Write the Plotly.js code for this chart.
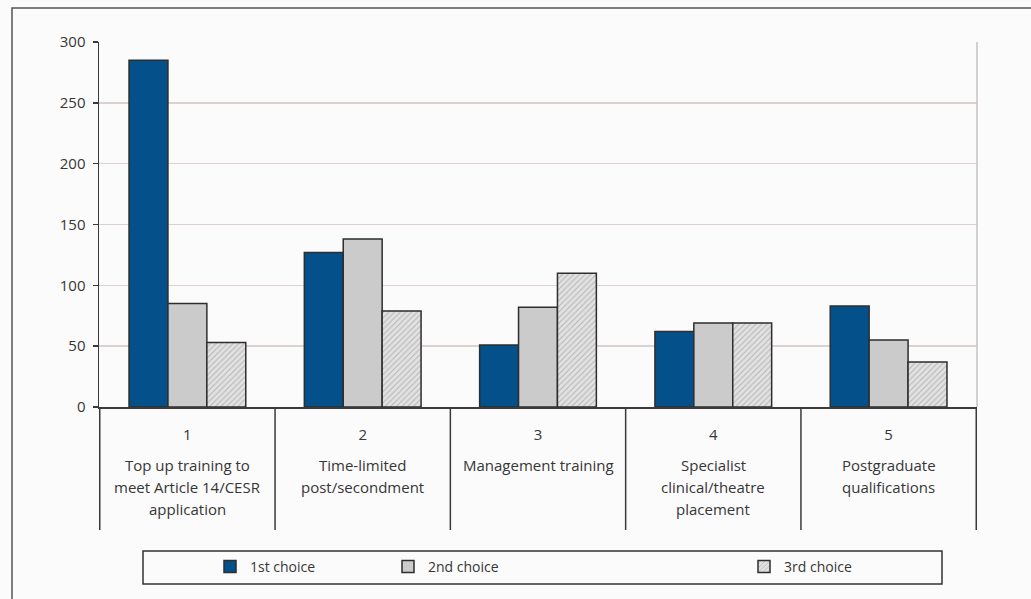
<!DOCTYPE html>
<html>
<head>
<meta charset="utf-8">
<script src="https://cdn.plot.ly/plotly-3.0.1.min.js"></script>
<style>
  html, body { margin: 0; padding: 0; background: #fbfbfb; }
  #chart { width: 1031px; height: 599px; }
</style>
</head>
<body>
<div id="chart"></div>
<script>
// Training options, ranked by respondents
const categories = ["1", "2", "3", "4", "5"];
const categoryLabels = [
  ["Top up training to", "meet Article 14/CESR", "application"],
  ["Time-limited", "post/secondment"],
  ["Management training"],
  ["Specialist", "clinical/theatre", "placement"],
  ["Postgraduate", "qualifications"]
];
const seriesNames = ["1st choice", "2nd choice", "3rd choice"];
const firstChoice  = [285, 127, 51, 62, 83];
const secondChoice = [85, 138, 82, 69, 55];
const thirdChoice  = [53, 79, 110, 69, 37];
const yTicks = [0, 50, 100, 150, 200, 250, 300];

const FONT = "Open Sans, Noto Sans, sans-serif";
const TEXT = "#363636";
const EDGE = {color: "#2e2e2e", width: 1.5};

const traces = [
  {type: "bar", name: seriesNames[0], x: categories, y: firstChoice,
   marker: {color: "#04508a", line: EDGE}, legend: "legend"},
  {type: "bar", name: seriesNames[1], x: categories, y: secondChoice,
   marker: {color: "#cbcbcb", line: EDGE}, legend: "legend2"},
  {type: "bar", name: seriesNames[2], x: categories, y: thirdChoice,
   marker: {color: "#e2e2e2", line: EDGE,
            pattern: {shape: "/", fgcolor: "#b4b4b4", bgcolor: "#e2e2e2", size: 4, solidity: 0.25}},
   legend: "legend3"}
];

// Plot-area geometry in pixels (used to turn pixel spots into paper units)
const L = 99, R = 54, T = 42, B = 192, W = 1031, H = 599;
const pw = W - L - R, ph = H - T - B;
const px = v => (v - L) / pw;
const py = v => (H - B - v) / ph;

const shapes = [];
// outer frame (runs past the right and bottom edges)
shapes.push({type: "rect", xref: "paper", yref: "paper",
  x0: px(12), x1: px(1080), y0: py(8), y1: py(640),
  line: {color: "#555", width: 1.5}, layer: "below"});
// light right edge of the plot area
shapes.push({type: "line", xref: "paper", yref: "paper", x0: 1, x1: 1, y0: 0, y1: 1,
  line: {color: "#c9c2c2", width: 1.5}});
// separators between category cells
for (let i = 0; i <= categories.length; i++) {
  shapes.push({type: "line", xref: "x", yref: "paper", x0: i - 0.5, x1: i - 0.5,
    y0: 0, y1: py(530), line: {color: "#3a3a3a", width: 1.5}});
}
// legend frame
shapes.push({type: "rect", xref: "paper", yref: "paper",
  x0: px(143), x1: px(942), y0: py(551), y1: py(584),
  line: {color: "#333", width: 1.5}});

const annotations = [];
categoryLabels.forEach((lines, i) => {
  lines.forEach((t, j) => {
    annotations.push({xref: "x", yref: "paper", x: i, y: 0, yanchor: "middle",
      yshift: -(58 + 22 * j), text: t, showarrow: false,
      font: {family: FONT, size: 15, color: TEXT}});
  });
});

const legendBase = {orientation: "h", yref: "paper", xanchor: "left", yanchor: "middle",
  y: py(567), bgcolor: "rgba(0,0,0,0)", borderwidth: 0,
  font: {family: FONT, size: 14, color: TEXT}, itemwidth: 30};

const layout = {
  width: W, height: H,
  margin: {l: L, r: R, t: T, b: B},
  paper_bgcolor: "#fbfbfb",
  plot_bgcolor: "#fbfbfb",
  barmode: "group",
  bargap: 0.334,
  bargroupgap: 0,
  font: {family: FONT, size: 15, color: TEXT},
  xaxis: {
    type: "category",
    showgrid: false,
    showline: true, linecolor: "#3a3a3a", linewidth: 1.5,
    ticks: "", ticklabelstandoff: 13,
    tickfont: {family: FONT, size: 15, color: TEXT},
    zeroline: false
  },
  yaxis: {
    range: [0, 300],
    tickvals: yTicks,
    showgrid: true, gridcolor: "#dbd2cf", gridwidth: 1.5,
    showline: true, linecolor: "#3a3a3a", linewidth: 1.5,
    ticks: "outside", ticklen: 5, tickcolor: "#3a3a3a", tickwidth: 1.5,
    ticklabelstandoff: 4,
    tickfont: {family: FONT, size: 15, color: TEXT},
    zeroline: false
  },
  showlegend: true,
  legend: Object.assign({}, legendBase, {x: px(210)}),
  legend2: Object.assign({}, legendBase, {x: px(388)}),
  legend3: Object.assign({}, legendBase, {x: px(744)}),
  shapes: shapes,
  annotations: annotations
};

Plotly.newPlot("chart", traces, layout, {displayModeBar: false, staticPlot: true});
</script>
</body>
</html>
